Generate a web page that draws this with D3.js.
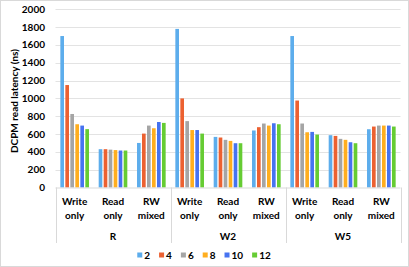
<!DOCTYPE html>
<html><head><meta charset="utf-8">
<script src="https://cdn.jsdelivr.net/npm/d3@7"></script>
<style>body{margin:0;background:#fff}svg{display:block}text{font-family:Lato,"Open Sans",sans-serif;font-weight:bold;fill:#000}</style>
</head><body><svg id="c" width="409" height="267"></svg>
<script>
const groups = ["R","W2","W5"];
const categories = ["Write only","Read only","RW mixed"];
const series = ["2","4","6","8","10","12"];
const colors = ["#5DADEC","#EC6131","#A5A5A5","#FFAE1F","#4673F0","#66CC33"];
const yTicks = [0,200,400,600,800,1000,1200,1400,1600,1800,2000];
// values[group][category] -> per series
const R_values = [[1700,1150,825,710,695,655],[430,430,425,420,415,415],[500,605,695,665,735,725]];
const W2_values = [[1780,1000,745,645,645,605],[568,561,535,523,497,497],[640,677,718,695,721,710]];
const W5_values = [[1700,976,718,620,624,594],[587,579,546,535,508,497],[654,684,695,695,695,684]];
const allValues = [R_values, W2_values, W5_values];

const svg = d3.select("#c");
const L = 55.5, Rr = 400.5, T = 9.3, B = 187.5;
svg.append("rect").attr("x",0.5).attr("y",0.5).attr("width",408).attr("height",266).attr("fill","#fff").attr("stroke","#D9D9D9");

const y = d3.scaleLinear().domain([0,2000]).range([B,T]);
const cats = [];
groups.forEach((g,gi)=>categories.forEach((c,ci)=>cats.push({g,gi,c,ci,key:g+"|"+c})));
const x0 = d3.scaleBand().domain(cats.map(d=>d.key)).range([L,Rr]).padding(0);
const xg = d3.scaleBand().domain(groups).range([L,Rr]).padding(0);
const x1 = d3.scaleBand().domain(series).range([0,x0.bandwidth()]).paddingInner(0.27).paddingOuter(0.97);

// gridlines
svg.append("g").selectAll("line").data(yTicks.filter(t=>t>0)).join("line")
  .attr("x1",L).attr("x2",Rr).attr("y1",d=>Math.round(y(d))+0.5).attr("y2",d=>Math.round(y(d))+0.5)
  .attr("stroke","#E3E3E3").attr("stroke-width",1);

// y tick labels
svg.append("g").selectAll("text").data(yTicks).join("text")
  .attr("x",45).attr("y",d=>y(d)).attr("dy","0.35em").attr("text-anchor","end")
  .attr("font-size",10).text(d=>d);

// bars
const bars = [];
cats.forEach(c=>series.forEach((s,si)=>bars.push({c,s,si,v:allValues[c.gi][c.ci][si]})));
svg.append("g").selectAll("rect").data(bars).join("rect")
  .attr("x",d=>x0(d.c.key)+x1(d.s)).attr("width",x1.bandwidth())
  .attr("y",d=>y(d.v)).attr("height",d=>B-y(d.v))
  .attr("fill",d=>colors[d.si]);

// x axis baseline
svg.append("line").attr("x1",L).attr("x2",Rr).attr("y1",B+0.5).attr("y2",B+0.5).attr("stroke","#D9D9D9");
// group separators
const seps = groups.map(g=>xg(g)).concat([Rr]);
svg.append("g").selectAll("line").data(seps).join("line")
  .attr("x1",d=>Math.round(d)+0.5).attr("x2",d=>Math.round(d)+0.5).attr("y1",B).attr("y2",243)
  .attr("stroke","#D9D9D9");

// category labels
const cl = svg.append("g").selectAll("text").data(cats).join("text")
  .attr("x",d=>x0(d.key)+x0.bandwidth()/2).attr("text-anchor","middle").attr("font-size",10);
cl.each(function(d){
  const parts = d.c.split(" ");
  d3.select(this).selectAll("tspan").data(parts).join("tspan")
    .attr("x",x0(d.key)+x0.bandwidth()/2).attr("y",(p,i)=>205+i*14).text(p=>p);
});
// group labels
svg.append("g").selectAll("text").data(groups).join("text")
  .attr("x",d=>xg(d)+xg.bandwidth()/2).attr("y",240).attr("text-anchor","middle").attr("font-size",10).text(d=>d);

// y title
svg.append("text").attr("transform","translate(17.5,101) rotate(-90)").attr("text-anchor","middle")
  .attr("font-size",10).text("DCPM read latency (ns)");

// legend
const lg = svg.append("g");
let cx = 0;
series.forEach((s,i)=>{
  const it = lg.append("g").attr("transform",`translate(${cx},0)`);
  it.append("rect").attr("x",0).attr("y",-2.5).attr("width",5).attr("height",5).attr("fill",colors[i]);
  const t = it.append("text").attr("x",7).attr("y",0).attr("dy","0.35em").attr("font-size",10).text(s);
  cx += 7 + t.node().getComputedTextLength() + 9;
});
const lw = cx - 9;
lg.attr("transform",`translate(${204 - lw/2},255)`);
</script></body></html>
